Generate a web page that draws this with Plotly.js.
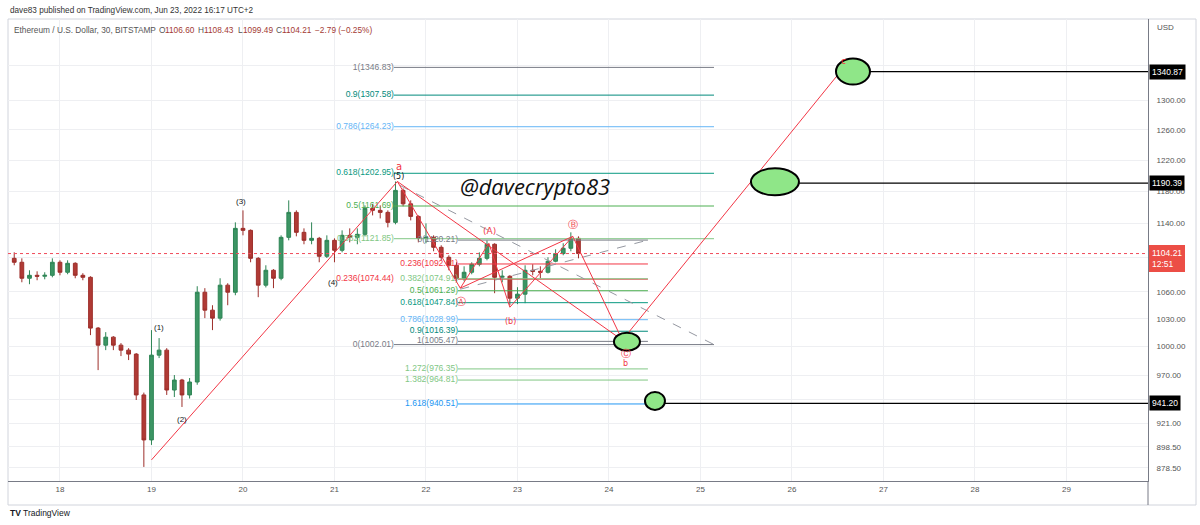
<!DOCTYPE html>
<html><head><meta charset="utf-8">
<script src="https://cdn.plot.ly/plotly-3.0.1.min.js"></script>
<style>html,body{margin:0;padding:0;background:#fff;}#chart{width:1200px;height:525px;}</style>
</head><body><div id="chart"></div>
<script>
// ---------------- DATA ----------------
const candleTime = [
"2022-06-17 12:00","2022-06-17 14:00","2022-06-17 16:00","2022-06-17 18:00","2022-06-17 20:00","2022-06-17 22:00",
"2022-06-18 00:00","2022-06-18 02:00","2022-06-18 04:00","2022-06-18 06:00","2022-06-18 08:00","2022-06-18 10:00",
"2022-06-18 12:00","2022-06-18 14:00","2022-06-18 16:00","2022-06-18 18:00","2022-06-18 20:00","2022-06-18 22:00",
"2022-06-19 00:00","2022-06-19 02:00","2022-06-19 04:00","2022-06-19 06:00","2022-06-19 08:00","2022-06-19 10:00",
"2022-06-19 12:00","2022-06-19 14:00","2022-06-19 16:00","2022-06-19 18:00","2022-06-19 20:00","2022-06-19 22:00",
"2022-06-20 00:00","2022-06-20 02:00","2022-06-20 04:00","2022-06-20 06:00","2022-06-20 08:00","2022-06-20 10:00",
"2022-06-20 12:00","2022-06-20 14:00","2022-06-20 16:00","2022-06-20 18:00","2022-06-20 20:00","2022-06-20 22:00",
"2022-06-21 00:00","2022-06-21 02:00","2022-06-21 04:00","2022-06-21 06:00","2022-06-21 08:00","2022-06-21 10:00",
"2022-06-21 12:00","2022-06-21 14:00","2022-06-21 16:00","2022-06-21 18:00","2022-06-21 20:00","2022-06-21 22:00",
"2022-06-22 00:00","2022-06-22 02:00","2022-06-22 04:00","2022-06-22 06:00","2022-06-22 08:00","2022-06-22 10:00",
"2022-06-22 12:00","2022-06-22 14:00","2022-06-22 16:00","2022-06-22 18:00","2022-06-22 20:00","2022-06-22 22:00",
"2022-06-23 00:00","2022-06-23 02:00","2022-06-23 04:00","2022-06-23 06:00","2022-06-23 08:00","2022-06-23 10:00",
"2022-06-23 12:00","2022-06-23 14:00","2022-06-23 16:00"];
const candleOpen = [1098.6,1094.0,1075.5,1078.9,1077.8,1078.9,1094.0,1082.4,1092.8,1078.9,1076.6,1019.8,
1001.4,1010.0,1001.4,996.1,991.9,949.6,905.1,990.8,996.1,954.6,964.8,949.6,
962.8,1059.6,1039.5,1030.7,1067.6,1059.6,1134.3,1131.9,1098.6,1067.6,1084.7,1075.5,
1123.5,1153.8,1129.5,1119.9,1122.3,1101.0,1119.9,1108.1,1125.9,1123.5,1127.1,1158.8,
1156.3,1153.8,1141.6,1181.2,1164.4,1148.9,1122.3,1123.5,1111.6,1099.8,1090.5,1075.5,
1082.4,1091.7,1098.6,1115.2,1076.6,1077.8,1052.9,1057.4,1084.7,1083.5,1082.4,1095.2,
1104.2,1110.5,1122.3];
const candleHigh = [1105.7,1098.6,1084.7,1083.5,1082.4,1098.6,1096.3,1096.3,1094.0,1081.3,1077.8,1021.0,
1015.4,1011.1,1003.6,998.2,993.0,952.0,1017.6,1009.0,998.2,970.0,966.0,966.9,
1066.4,1064.2,1045.0,1075.5,1069.8,1141.6,1156.3,1133.0,1100.0,1090.5,1086.0,1125.9,
1168.7,1156.3,1134.3,1141.6,1124.0,1125.9,1122.3,1131.9,1134.3,1134.3,1162.5,1164.4,
1162.5,1156.3,1192.5,1183.7,1168.7,1150.1,1140.4,1125.9,1114.0,1102.2,1094.0,1089.3,
1094.0,1105.7,1119.9,1116.4,1084.7,1079.0,1065.3,1090.5,1091.7,1089.3,1099.8,1109.3,
1116.4,1129.5,1124.7];
const candleLow = [1090.5,1070.9,1068.7,1073.2,1074.3,1076.6,1078.9,1080.1,1075.5,1073.2,1012.2,975.1,
996.1,996.1,989.8,985.6,944.5,879.4,900.3,987.7,949.6,947.5,937.5,946.0,
960.0,1030.7,1017.6,1028.0,1045.0,1056.2,1125.9,1094.0,1054.0,1065.0,1064.2,1073.2,
1119.9,1124.7,1115.2,1115.2,1094.0,1099.0,1094.0,1105.7,1117.5,1115.2,1124.7,1150.1,
1146.4,1135.5,1139.2,1161.3,1144.0,1117.5,1116.4,1106.9,1096.3,1084.7,1070.9,1072.0,
1080.1,1089.3,1096.3,1058.5,1070.9,1045.0,1046.2,1047.3,1078.9,1075.5,1081.0,1094.0,
1102.2,1106.9,1098.6];
const candleClose = [1094.0,1075.5,1078.9,1077.8,1078.9,1094.0,1082.4,1092.8,1078.9,1076.6,1019.8,1001.4,
1010.0,1001.4,996.1,991.9,949.6,905.1,990.8,996.1,954.6,964.8,949.6,962.8,
1059.6,1039.5,1030.7,1067.6,1059.6,1134.3,1131.9,1098.6,1067.6,1084.7,1075.5,1123.5,
1153.8,1129.5,1119.9,1122.3,1101.0,1119.9,1108.1,1125.9,1123.5,1127.1,1158.8,1156.3,
1153.8,1141.6,1181.2,1164.4,1148.9,1122.3,1123.5,1111.6,1099.8,1090.5,1075.5,1082.4,
1091.7,1098.6,1115.2,1076.6,1077.8,1052.9,1057.4,1084.7,1083.5,1082.4,1095.2,1104.2,
1110.5,1122.3,1104.21];
const lastPrice = 1104.21;
const legendParts = ["Ethereum / U.S. Dollar, 30, BITSTAMP","O","1106.60","H","1108.43","L","1099.49","C","1104.21","−2.79 (−0.25%)"];

// Fibonacci tools
const fibALevel = ["1","0.9","0.786","0.618","0.5","0.382","0.236","0"];
const fibAPrice = [1346.83,1307.58,1264.23,1202.95,1161.69,1121.85,1074.44,1002.01];
const fibBLevel = ["0","0.236","0.382","0.5","0.618","0.786","0.9","1","1.272","1.382","1.618"];
const fibBPrice = [1120.21,1092.01,1074.91,1061.29,1047.84,1028.99,1016.39,1005.47,976.35,964.81,940.51];

// Elliott wave pivots
const impulseTime = ["2022-06-19 00:00","2022-06-21 16:30"];
const impulsePrice = [886.0,1192.5];
const pivotName = ["(5)","A","(A)","(b)","B","C","c"];
const pivotTime = ["2022-06-21 16:30","2022-06-22 09:00","2022-06-22 16:30","2022-06-22 22:00","2022-06-23 14:30","2022-06-24 03:30","2022-06-26 13:20"];
const pivotPrice = [1192.5,1064.2,1116.4,1042.8,1124.7,1006.8,1345.0];
const waveLabelText = ["(1)","(2)","(3)","(4)"];
const waveLabelTime = ["2022-06-19 02:00","2022-06-19 08:00","2022-06-19 23:30","2022-06-20 23:40"];
const waveLabelPrice = [1020.8,924.6,1167.5,1070.9];

// trend (dashed) lines
const dashTime = [["2022-06-21 17:10","2022-06-25 03:33"],["2022-06-22 09:00","2022-06-24 10:13"]];
const dashPrice = [[1187.5,1002.01],[1063.0,1120.21]];

// targets
const targetPrice = [1340.87,1190.39,941.20];
const targetStart = ["2022-06-26 15:45","2022-06-25 19:48","2022-06-24 12:04"];
const blobTime = ["2022-06-26 16:00","2022-06-25 19:32","2022-06-24 04:43","2022-06-24 12:04"];
const blobPrice = [1340.87,1192.0,1005.0,943.5];

const dayTicks = ["2022-06-18","2022-06-19","2022-06-20","2022-06-21","2022-06-22","2022-06-23","2022-06-24","2022-06-25","2022-06-26","2022-06-27","2022-06-28","2022-06-29"];
const dayLabels = ["18","19","20","21","22","23","24","25","26","27","28","29"];
const priceTicks = [878.5,898.5,921,945,970,1000,1030,1060,1100,1140,1180,1220,1260,1300,1350];
const hiddenTicks = [945,1100,1350]; // covered by the price boxes on the axis

// ---------------- STYLE / LAYOUT ----------------
const FONT = "Liberation Sans, Arial, sans-serif";
const RED = "#f23645";
const L = 8, R = 52, T = 19, B = 44, PW = 1140, PH = 462;
const px = x => (x - L) / PW;
const py = y => (T + PH - y) / PH;
const lg = Math.log10;
const xRange = ["2022-06-17 10:22","2022-06-29 21:23"];
const yRange = [lg(866.3), lg(1418.2)];
const yPaper = p => (lg(p) - yRange[0]) / (yRange[1] - yRange[0]);
const levelColor = {"0":"#787b86","0.236":"#f23645","0.382":"#81c784","0.5":"#4caf50","0.618":"#089981",
  "0.786":"#64b5f6","0.9":"#00897b","1":"#787b86","1.272":"#81c784","1.382":"#81c784","1.618":"#2196f3"};

const traces = [];
traces.push({type:"candlestick", x:candleTime, open:candleOpen, high:candleHigh, low:candleLow, close:candleClose,
  increasing:{line:{color:"#2e8555",width:1}, fillcolor:"#3c9564"},
  decreasing:{line:{color:"#9e2f2b",width:1}, fillcolor:"#b03a35"},
  whiskerwidth:0, hoverinfo:"skip", showlegend:false});

function seg(t0,t1,p0,p1,color,width,dash,opacity){
  traces.push({type:"scatter",mode:"lines",x:[t0,t1],y:[p0,p1],opacity:opacity||1,
    line:{color:color,width:width||1,dash:dash||"solid"},hoverinfo:"skip",showlegend:false});
}
function hline(t0,t1,p,color,width,dash,opacity){ seg(t0,t1,p,p,color,width,dash,opacity); }
function label(t,p,text,color,pos,size){
  traces.push({type:"scatter",mode:"text",x:[t],y:[p],text:[text],textposition:pos||"middle left",
    textfont:{color:color,size:size||8.5,family:FONT},hoverinfo:"skip",showlegend:false,cliponaxis:false});
}

// last price dotted line
hline(xRange[0], "2022-06-30 00:00", lastPrice, "#f04a5a", 1, "dot", 1);

// fib A
const fibAStart = "2022-06-21 15:36", fibAEnd = "2022-06-25 03:33";
const fibBStart = "2022-06-22 08:24", fibBEnd = "2022-06-24 10:13";
fibALevel.forEach((lv,i)=>{
  const c = levelColor[lv];
  if (lv === "0.236") hline(fibBStart, fibBEnd, fibAPrice[i], c, 1);
  else hline(fibAStart, fibAEnd, fibAPrice[i], c, 1);
  label(fibAStart, fibAPrice[i], lv+"("+fibAPrice[i].toFixed(2)+")", c);
});
fibBLevel.forEach((lv,i)=>{
  const c = levelColor[lv];
  hline(fibBStart, fibBEnd, fibBPrice[i], c, 1);
  label(fibBStart, fibBPrice[i], lv+"("+fibBPrice[i].toFixed(2)+")", c);
});

// dashed trend lines
dashTime.forEach((t,i)=> seg(t[0],t[1],dashPrice[i][0],dashPrice[i][1],"#9598a1",1,"dash"));

// target lines
targetPrice.forEach((p,i)=> hline(targetStart[i], "2022-06-30 00:00", p, "#000000", 1.2));

// impulse trendline and correction paths
seg(impulseTime[0],impulseTime[1],impulsePrice[0],impulsePrice[1],RED,1);
const segments = [[0,1],[1,2],[2,3],[3,4],[1,4],[4,5],[0,5],[5,6]];
segments.forEach(s => seg(pivotTime[s[0]],pivotTime[s[1]],pivotPrice[s[0]],pivotPrice[s[1]],RED,1));

// ---------------- SHAPES ----------------
const shapes = [];
const blobSize = [[34,26],[48,27],[26,18],[20,18]];
blobTime.forEach((t,i)=>{
  const w = blobSize[i][0], h = blobSize[i][1];
  shapes.push({type:"circle",xref:"x",yref:"paper",xsizemode:"pixel",ysizemode:"pixel",xanchor:t,yanchor:yPaper(blobPrice[i]),
    x0:-w/2,x1:w/2,y0:-h/2,y1:h/2,fillcolor:"#8fe688",line:{color:"#000",width:2},layer:"above"});
});
// frame
shapes.push({type:"rect",xref:"paper",yref:"paper",x0:0,x1:px(1196),y0:py(505),y1:1,line:{color:"#d1d4dc",width:1},layer:"below"});
shapes.push({type:"line",xref:"paper",yref:"paper",x0:1,x1:1,y0:py(505),y1:0,line:{color:"#787b86",width:1}});

// ---------------- ANNOTATIONS ----------------
const ann = [];
function A(o){ ann.push(Object.assign({showarrow:false,font:{family:FONT,size:8.5,color:"#131722"}},o)); }
A({xref:"paper",yref:"paper",x:px(8),y:py(10),xanchor:"left",yanchor:"middle",
   text:"dave83 published on TradingView.com, Jun 23, 2022 16:17 UTC+2",font:{family:FONT,size:8.2,color:"#333"}});
// legend row
const legendX = [12,157,163,196,202,236,241,274,280,313];
legendParts.forEach((s,i)=>{
  const isVal = (i===2||i===4||i===6||i===8||i===9);
  A({xref:"paper",yref:"paper",x:px(legendX[i]),y:py(30),xanchor:"left",yanchor:"middle",text:s,
     font:{family:FONT,size:8.3,color:isVal?"#a33a33":"#555"}});
});
A({xref:"paper",yref:"paper",x:px(8),y:py(513),xanchor:"left",yanchor:"middle",
   text:"<b>TV</b> TradingView",font:{family:FONT,size:8.5,color:"#131722"}});
A({xref:"paper",yref:"paper",x:px(1155),y:py(28),xanchor:"left",yanchor:"middle",text:"USD",font:{family:FONT,size:8,color:"#555"}});
// watermark
A({xref:"paper",yref:"paper",x:px(535),y:py(186),xanchor:"center",yanchor:"middle",
   text:"<i>@davecrypto83</i>",font:{family:"Open Sans, sans-serif",size:22,color:"#111"}});
// wave labels
waveLabelText.forEach((t,i)=> A({x:waveLabelTime[i],y:lg(waveLabelPrice[i]),text:t,font:{family:FONT,size:8,color:"#131722"}}));
const pivotLabel = [
  {i:0,text:"(5)",dy:5,dx:1,color:"#131722",size:8},
  {i:0,text:"a",dy:15,dx:2,color:RED,size:10},
  {i:1,text:"Ⓐ",dy:-13,dx:1,color:RED,size:10},
  {i:2,text:"(A)",dy:12,dx:1,color:RED,size:9},
  {i:3,text:"(b)",dy:-14,dx:1,color:RED,size:8},
  {i:4,text:"Ⓑ",dy:12,dx:0,color:RED,size:10},
  {i:5,text:"Ⓒ",dy:-13,dx:4,color:RED,size:10},
  {i:5,text:"b",dy:-23,dx:3,color:RED,size:8},
  {i:6,text:"c",dy:8,dx:1,color:RED,size:9}];
pivotLabel.forEach(o=> A({x:pivotTime[o.i],y:lg(pivotPrice[o.i]),text:o.text,xshift:o.dx,yshift:o.dy,font:{family:"DejaVu Sans, "+FONT,size:o.size,color:o.color}}));
// right-axis price boxes
targetPrice.forEach(p=> A({xref:"paper",x:1,xanchor:"left",y:lg(p),yanchor:"middle",xshift:1,text:p.toFixed(2),
   bgcolor:"#000000",borderpad:2,font:{family:FONT,size:8.5,color:"#ffffff"}}));
A({xref:"paper",x:1,xanchor:"left",y:lg(lastPrice),yanchor:"middle",yshift:-5,xshift:1,text:lastPrice.toFixed(2)+"<br>12:51",align:"left",
   bgcolor:"rgb(236,78,70)",bordercolor:"rgb(236,78,70)",borderwidth:1,borderpad:2,font:{family:FONT,size:8.5,color:"#ffffff"}});

const layout = {
  width:1200,height:525,paper_bgcolor:"#fff",plot_bgcolor:"#fff",
  margin:{l:L,r:R,t:T,b:B,pad:0},showlegend:false,
  font:{family:FONT,size:8,color:"#555"},
  xaxis:{type:"date",range:xRange,tickvals:dayTicks,ticktext:dayLabels,showgrid:true,gridcolor:"#eeeff2",
    showline:true,linecolor:"#787b86",linewidth:1,ticks:"",tickfont:{size:8,color:"#555"},
    rangeslider:{visible:false},fixedrange:true,zeroline:false},
  yaxis:{type:"log",side:"right",range:yRange,tickvals:priceTicks,
    ticktext:priceTicks.map(v=> hiddenTicks.includes(v) ? "" : v.toFixed(2)),
    showgrid:true,gridcolor:"#eeeff2",showline:true,linecolor:"#787b86",linewidth:1,ticks:"",
    tickfont:{size:8,color:"#555"},fixedrange:true,zeroline:false,ticklabelstandoff:6},
  shapes:shapes,annotations:ann
};
Plotly.newPlot("chart",traces,layout,{staticPlot:true,displayModeBar:false});
</script></body></html>
